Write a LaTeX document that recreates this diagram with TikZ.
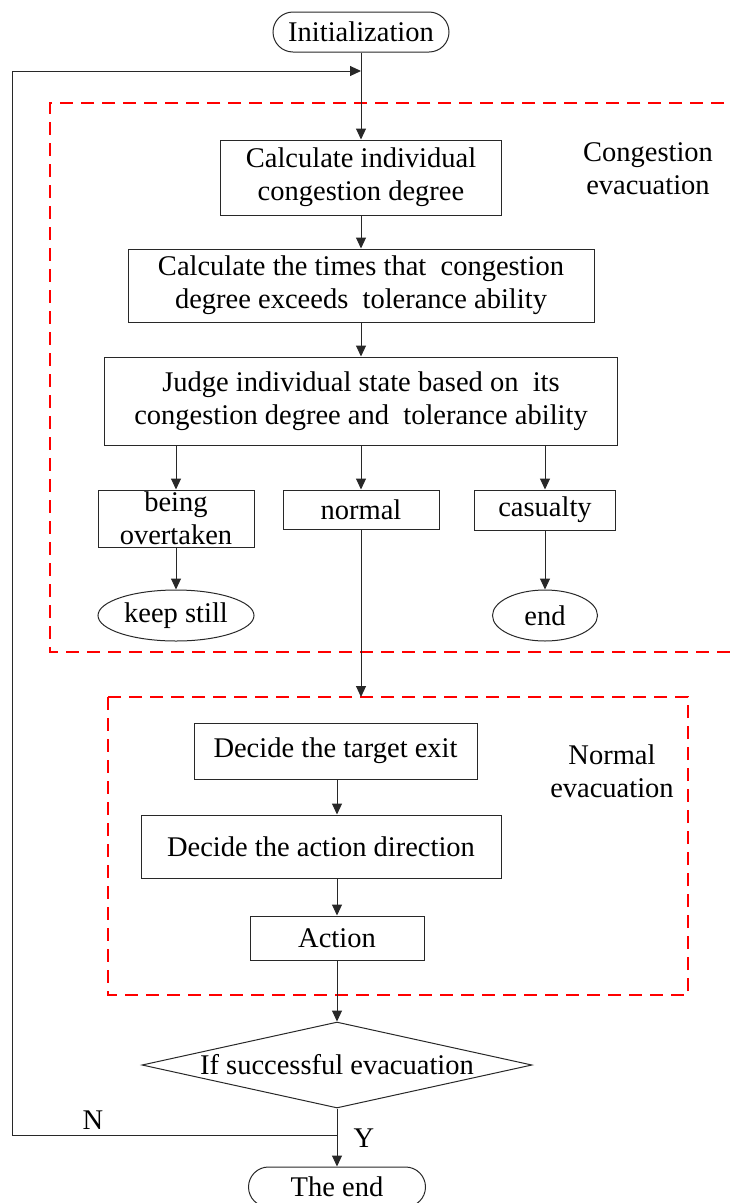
\documentclass[tikz,border=0pt]{standalone}
\usepackage{fontspec}
\setmainfont{Liberation Serif}
\usetikzlibrary{shapes.geometric,arrows.meta}
\definecolor{ln}{RGB}{40,40,40}
\tikzset{
  every node/.style={font=\fontsize{28.5}{33}\selectfont, text=black},
  box/.style={draw=ln, line width=1pt, rectangle, inner sep=0pt, align=center},
  term/.style={draw=ln, line width=1pt, rectangle, rounded corners=20pt, inner sep=0pt},
  ell/.style={draw=ln, line width=1pt, ellipse, inner sep=0pt},
  arr/.style={draw=ln, line width=1pt, -{Triangle[length=11pt,width=10pt]}},
  ln/.style={draw=ln, line width=1pt},
  reddash/.style={draw=red, line width=2pt, dash pattern=on 13pt off 8pt}
}
\begin{document}
\begin{tikzpicture}[x=1pt,y=-1pt]
\useasboundingbox (0,0) rectangle (731,1203);
\clip (0,0) rectangle (731,1203);
% red dashed regions
\draw[reddash] (745,103) -- (50,103) -- (50,652) -- (745,652);
\draw[reddash] (108,697) rectangle (688,995);
% nodes
\node[term, minimum width=176pt, minimum height=40pt] (init) at (361,32) {Initialization};
\node[box, minimum width=281pt, minimum height=75pt] (b1) at (361,177.5) {Calculate individual\\congestion degree};
\node[box, minimum width=466pt, minimum height=73pt] (b2) at (361,285.5) {Calculate the times that \ congestion\\degree exceeds \ tolerance ability};
\node[box, minimum width=513pt, minimum height=88pt] (b3) at (361,401) {Judge individual state based on \ its\\congestion degree and \ tolerance ability};
\node[box, minimum width=156pt, minimum height=57pt] (s1) at (176,518.5) {being\\overtaken};
\node[box, minimum width=156pt, minimum height=39pt] (s2) at (361,509.5) {normal};
\node[box, minimum width=141pt, minimum height=40pt] (s3) at (545,510) {casualty};
\node[ell, minimum width=156pt, minimum height=51pt] (e1) at (176,615.5) {keep still};
\node[ell, minimum width=105pt, minimum height=51pt] (e2) at (545,615.5) {end};
\node[align=center] (lab1) at (648,169) {Congestion\\evacuation};
\node[box, minimum width=283pt, minimum height=56pt] (d1) at (335.5,751) {Decide the target exit};
\node[box, minimum width=360pt, minimum height=63pt] (d2) at (321,846.5) {Decide the action direction};
\node[box, minimum width=174pt, minimum height=44pt] (d3) at (337,938) {Action};
\node[align=center] (lab2) at (612,771) {Normal\\evacuation};
\node[draw=ln, line width=1pt, diamond, inner sep=0pt, minimum width=390pt, minimum height=86pt] (dia) at (337,1065) {\makebox[0pt]{If successful evacuation}};
\node[term, minimum width=177pt, minimum height=40pt] (fin) at (337,1187) {The end};
\coordinate (top) at (361,71);
\coordinate (nr) at (337,1135);
\coordinate (nl) at (12,1135);
\coordinate (tl) at (12,71);
\coordinate (nb) at (361,697);
\node (N) at (93,1120) {N};
\node (Y) at (364,1138) {Y};
% connectors
\draw[arr] (init.south) -- (b1.north);
\draw[arr] (b1.south) -- (b2.north);
\draw[arr] (b2.south) -- (b3.north);
\draw[arr] (b3.south -| s1.north) -- (s1.north);
\draw[arr] (b3.south -| s2.north) -- (s2.north);
\draw[arr] (b3.south -| s3.north) -- (s3.north);
\draw[arr] (s1.south) -- (e1.north);
\draw[arr] (s3.south) -- (e2.north);
\draw[arr] (s2.south) -- (nb);
\draw[arr] (d3.north |- d1.south) -- (d3.north |- d2.north);
\draw[arr] (d3.north |- d2.south) -- (d3.north);
\draw[arr] (d3.south) -- (dia.north);
\draw[arr] (dia.south) -- (fin.north);
\draw[arr] (nr) -- (nl) -- (tl) -- (top);
\end{tikzpicture}
\end{document}
